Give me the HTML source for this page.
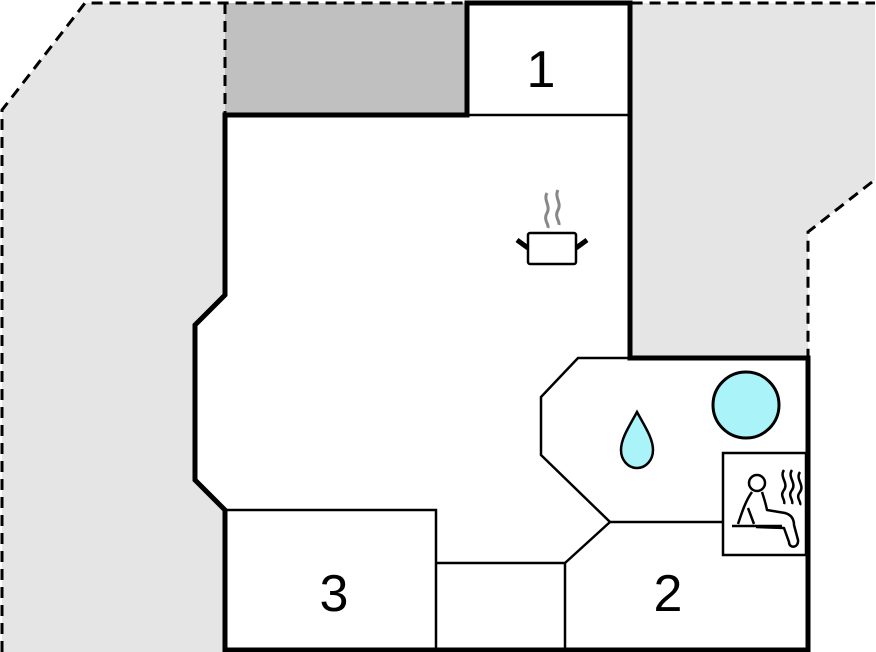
<!DOCTYPE html>
<html><head><style>html,body{margin:0;padding:0;background:#fff}svg{display:block}</style></head><body>
<svg width="876" height="652" viewBox="0 0 876 652" xmlns="http://www.w3.org/2000/svg">
<polygon points="2,110 85,3 225,3 225,652 2,652" fill="#e5e5e5"/>
<polygon points="630,3 875,3 875,180 808,232 808,358 630,358" fill="#e5e5e5"/>
<rect x="225" y="3" width="242" height="112" fill="#c0c0c0"/>
<polyline points="2,652 2,110 85,3 875,3" fill="none" stroke="#000" stroke-width="3" stroke-dasharray="11,7"/>
<polyline points="872,182 808,232 808,358" fill="none" stroke="#000" stroke-width="3" stroke-dasharray="11,7"/>
<line x1="225" y1="3" x2="225" y2="115" stroke="#000" stroke-width="3" stroke-dasharray="11,7"/>
<polygon points="225,115 467,115 467,3 630,3 630,358 808,358 808,650 225,650 225,510 195,480 195,325 225,295" fill="#fff" stroke="#000" stroke-width="5"/>
<g fill="none" stroke="#000" stroke-width="2.5">
<line x1="467" y1="115" x2="630" y2="115"/>
<polyline points="225,510 436,510 436,650"/>
<polyline points="436,563 565,563 565,650"/>
<polyline points="565,563 610,522 541,455 541,397 578,358 630,358"/>
<line x1="610" y1="522" x2="723" y2="522"/>
<rect x="723" y="453" width="83" height="102"/>
</g>
<circle cx="746" cy="405" r="33" fill="#aaf4f9" stroke="#000" stroke-width="3"/>
<path d="M637,412 C630,425 621,438 621,450 C621,460 628,468 637,468 C646,468 653,460 653,450 C653,438 644,425 637,412 Z" fill="#aaf4f9" stroke="#000" stroke-width="2.5"/>
<g fill="none" stroke="#888" stroke-width="3">
<path d="M547,193 C543,200 551,206 547,213 C543,220 549,224 548,228"/>
<path d="M558,190 C554,197 562,203 558,210 C554,217 560,221 559,225"/>
</g>
<rect x="528" y="233" width="48" height="31" rx="2" fill="#fff" stroke="#000" stroke-width="2.5"/>
<line x1="517" y1="240" x2="528" y2="248" stroke="#000" stroke-width="5"/>
<line x1="576" y1="248" x2="587" y2="240" stroke="#000" stroke-width="5"/>
<g fill="none" stroke="#000" stroke-width="2.5" stroke-linejoin="round">
<circle cx="757" cy="483" r="8"/>
<path d="M752,492 C746,500 742,512 738,524"/>
<path d="M762,492 C764,498 766,505 767,510 L785,513 C792,515 794,520 794,525 L798,540 C799,548 789,549 789,542 L784,528 L756,527"/>
<path d="M748,508 L754,524"/>
<path d="M732,526 L782,526"/>
<path d="M784,470 C779,477 789,483 784,490 C779,496 786,500 784,504"/>
<path d="M792,470 C787,477 797,483 792,490 C787,496 794,500 792,504"/>
<path d="M800,472 C795,479 805,485 800,492 C795,498 802,502 800,505"/>
</g>
<g font-family="Liberation Sans, sans-serif" font-size="52" text-anchor="middle" fill="#000">
<text x="541" y="87">1</text>
<text x="334" y="611">3</text>
<text x="668" y="611">2</text>
</g>
</svg>
</body></html>
